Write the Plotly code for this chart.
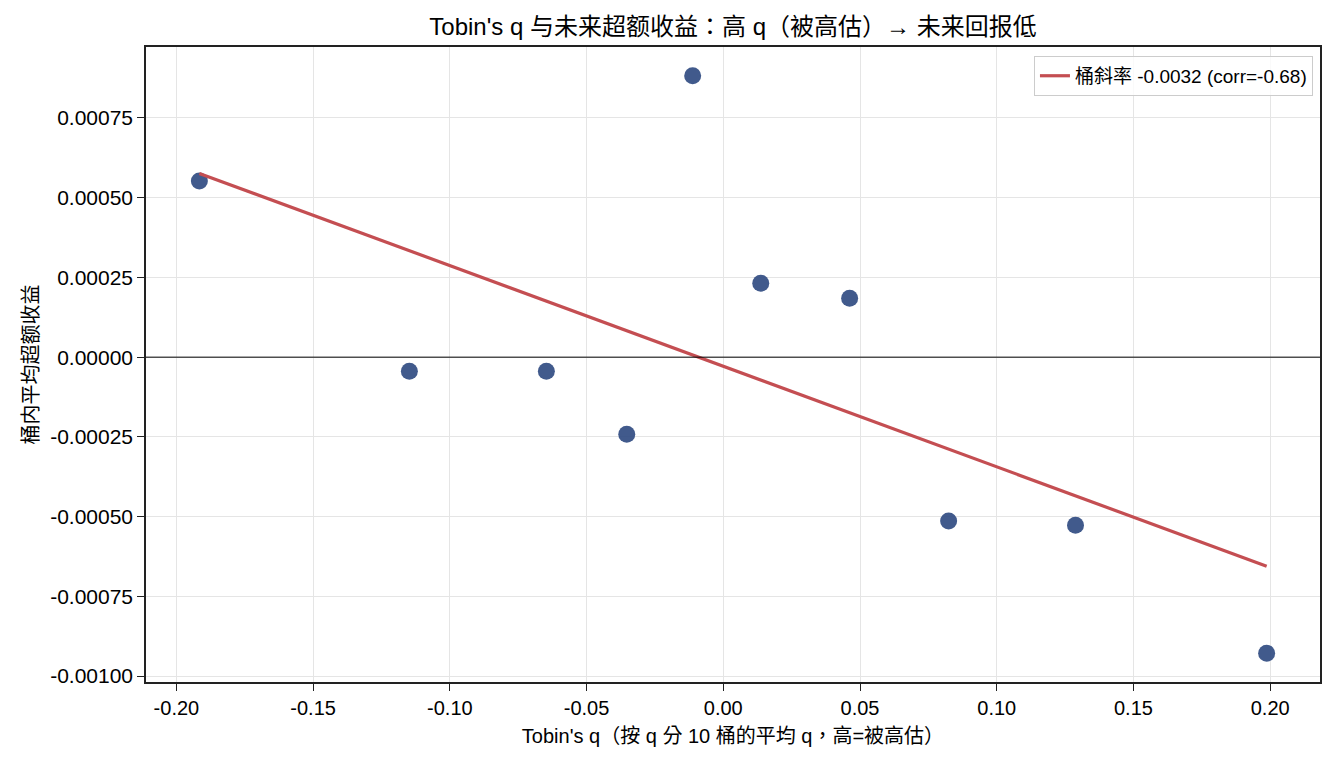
import numpy as np
import plotly.graph_objects as go

q_mean = [-0.1916, -0.1148, -0.0647, -0.0353, -0.0112, 0.0137, 0.0462, 0.0824, 0.1288, 0.1987]
excess_ret = [0.000552, -0.000044, -0.000044, -0.000242, 0.000882, 0.000232, 0.000185, -0.000514, -0.000527, -0.000928]

x_ticks = [-0.20, -0.15, -0.10, -0.05, 0.00, 0.05, 0.10, 0.15, 0.20]
x_ticktext = ["-0.20", "-0.15", "-0.10", "-0.05", "0.00", "0.05", "0.10", "0.15", "0.20"]
y_ticks = [0.00075, 0.0005, 0.00025, 0.0, -0.00025, -0.0005, -0.00075, -0.001]
y_ticktext = ["0.00075", "0.00050", "0.00025", "0.00000", "-0.00025", "-0.00050", "-0.00075", "-0.00100"]

legend_label = "桶斜率 -0.0032 (corr=-0.68)"
title_text = "Tobin's q 与未来超额收益：高 q（被高估）→ 未来回报低"
x_title = "Tobin's q（按 q 分 10 桶的平均 q，高=被高估）"
y_title = "桶内平均超额收益"

FONT = "Liberation Sans, Arial, Noto Sans CJK TC, sans-serif"

xa = np.array(q_mean)
ya = np.array(excess_ret)
slope, intercept = np.polyfit(xa, ya, 1)
line_x = np.array([xa.min(), xa.max()])
line_y = slope * line_x + intercept

fig = go.Figure()
fig.add_trace(go.Scatter(
    x=q_mean, y=excess_ret, mode="markers",
    marker=dict(size=17, color="rgba(44,72,128,0.9)", line=dict(width=0)),
    showlegend=False, hoverinfo="skip"))
fig.add_trace(go.Scatter(
    x=line_x, y=line_y, mode="lines",
    line=dict(color="#C44E52", width=3.2),
    name=legend_label, showlegend=True))

fig.add_shape(type="line", xref="paper", x0=0, x1=1, yref="y", y0=0, y1=0,
              line=dict(color="black", width=1), layer="above")

xspan = xa.max() - xa.min()
yspan = ya.max() - ya.min()

fig.update_layout(
    width=1334, height=763,
    margin=dict(l=146, r=14, t=47, b=81),
    paper_bgcolor="white", plot_bgcolor="white",
    font=dict(family=FONT, size=20, color="black"),
    title=dict(text=title_text, x=0.5, xanchor="center", xref="paper",
               y=1 - 27 / 763, yanchor="middle", font=dict(size=24, family=FONT)),
    legend=dict(x=0.994, y=0.986, xanchor="right", yanchor="top",
                bgcolor="rgba(255,255,255,0.8)", bordercolor="#CCCCCC", borderwidth=1,
                font=dict(size=19, family=FONT)),
    xaxis=dict(range=[xa.min() - 0.05 * xspan, xa.max() + 0.05 * xspan],
               tickvals=x_ticks, ticktext=x_ticktext,
               showgrid=True, gridcolor="#E5E5E5", gridwidth=1,
               zeroline=False, showline=True, linecolor="#222222", linewidth=1.5,
               mirror=True, ticks="outside", ticklen=7, tickcolor="#222222",
               tickfont=dict(size=20),
               title=dict(text=x_title, font=dict(size=20), standoff=11)),
    yaxis=dict(range=[ya.min() - 0.05 * yspan, ya.max() + 0.05 * yspan],
               tickvals=y_ticks, ticktext=y_ticktext,
               showgrid=True, gridcolor="#E5E5E5", gridwidth=1,
               zeroline=False, showline=True, linecolor="#222222", linewidth=1.5,
               mirror=True, ticks="outside", ticklen=7, tickcolor="#222222",
               tickfont=dict(size=21),
               title=dict(text=y_title, font=dict(size=20), standoff=6)),
)

fig.write_html("out.html")
